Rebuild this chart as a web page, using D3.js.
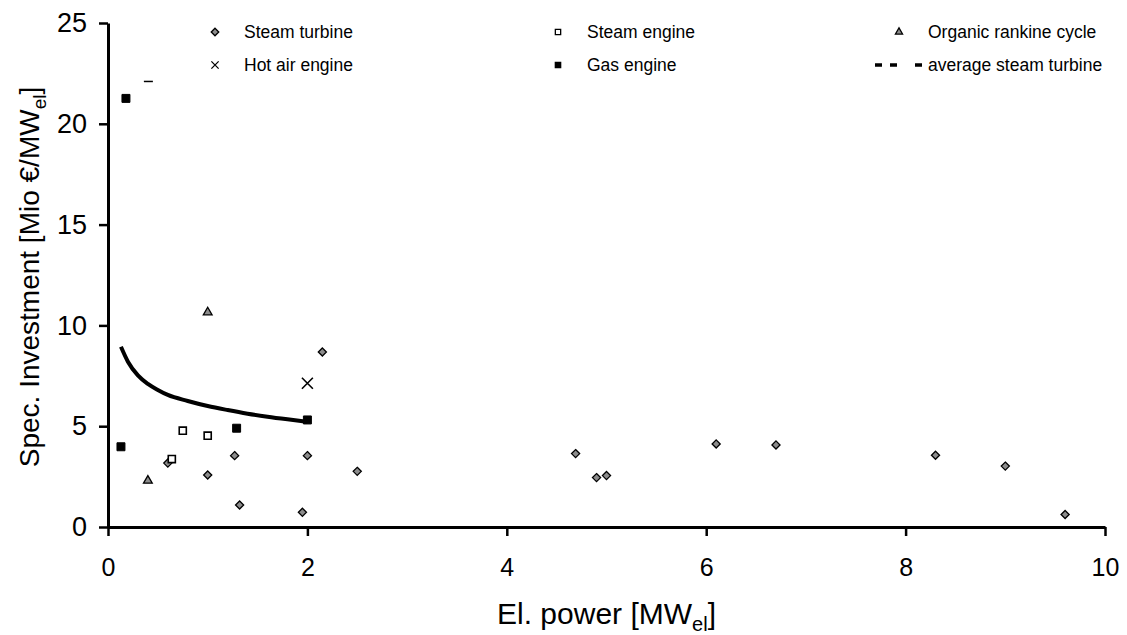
<!DOCTYPE html>
<html>
<head>
<meta charset="utf-8">
<script src="https://cdn.jsdelivr.net/npm/d3@7"></script>
<style>
  body { margin: 0; background: #fff; }
  svg { font-family: Arial, "Liberation Sans", sans-serif; }
</style>
</head>
<body>
<div id="chart"></div>
<script>
// values: [el. power MW, spec. investment Mio €/MW]
const steamTurbine = [
  [0.60, 3.17], [1.00, 2.58], [1.27, 3.54], [1.32, 1.09], [1.95, 0.73],
  [2.00, 3.54], [2.15, 8.68], [2.50, 2.76], [4.69, 3.64], [4.90, 2.45],
  [5.00, 2.55], [6.10, 4.12], [6.70, 4.07], [8.30, 3.56], [9.00, 3.02],
  [9.60, 0.62]
];
const steamEngine = [[0.64, 3.37], [0.75, 4.78], [1.00, 4.53]];
const orc = [[0.40, 2.30], [1.00, 10.65]];
const hotAir = [[2.00, 7.13]];
const gasEngine = [[0.13, 3.98], [0.18, 21.26], [1.29, 4.90], [2.00, 5.31]];
// average steam turbine curve
const avgTurbine = [
  [0.13, 8.94], [0.2, 8.2], [0.3, 7.52], [0.4, 7.1], [0.5, 6.8], [0.6, 6.55],
  [0.8, 6.25], [1.0, 6.0], [1.2, 5.8], [1.4, 5.62], [1.6, 5.47], [1.8, 5.34], [2.0, 5.22]
];
const strayDash = [[0.40, 22.1]]; // small dash mark near the top
const xTicks = [0, 2, 4, 6, 8, 10];
const yTicks = [0, 5, 10, 15, 20, 25];

const W = 1127, H = 635;
const margin = { top: 23, right: 22, bottom: 108, left: 108 };
const width = W - margin.left - margin.right;
const height = H - margin.top - margin.bottom;

const svg = d3.select('#chart').append('svg')
  .attr('width', W).attr('height', H);
const g = svg.append('g')
  .attr('transform', 'translate(' + margin.left + ',' + margin.top + ')');

const x = d3.scaleLinear().domain([0, 10]).range([0, width]);
const y = d3.scaleLinear().domain([0, 25]).range([height, 0]);

// axes
const xAxis = d3.axisBottom(x).tickValues(xTicks).tickSize(9).tickPadding(22).tickSizeOuter(0);
const yAxis = d3.axisLeft(y).tickValues(yTicks).tickSize(9).tickPadding(12).tickSizeOuter(0);

const gx = g.append('g').attr('transform', 'translate(0,' + height + ')').call(xAxis);
const gy = g.append('g').call(yAxis);
[gx, gy].forEach(a => {
  a.select('.domain').attr('stroke', '#000').attr('stroke-width', 3);
  a.selectAll('.tick line').attr('stroke', '#000').attr('stroke-width', 2.5);
  a.selectAll('.tick text').attr('fill', '#000')
    .style('font-family', 'Arial, "Liberation Sans", sans-serif');
});
gx.selectAll('.tick text').style('font-size', '25px');
gy.selectAll('.tick text').style('font-size', '27px');

// axis titles
const xt = svg.append('text')
  .attr('x', margin.left + x(5)).attr('y', 624)
  .attr('text-anchor', 'middle').style('font-size', '30px');
xt.append('tspan').text('El. power [MW');
xt.append('tspan').attr('dy', 7).style('font-size', '20px').text('el');
xt.append('tspan').attr('dy', -7).text(']');

const yt = svg.append('text')
  .attr('transform', 'translate(39,' + (margin.top + y(12.5) + 2) + ') rotate(-90)')
  .attr('text-anchor', 'middle').style('font-size', '28px');
yt.append('tspan').text('Spec. Investment [Mio €/MW');
yt.append('tspan').attr('dy', 7).style('font-size', '19px').text('el');
yt.append('tspan').attr('dy', -7).text(']');

// marker drawing helpers
const sym = (type, size) => d3.symbol().type(type).size(size)();
function drawPoints(data, type, size, fill, stroke, sw) {
  g.append('g').selectAll('path').data(data).join('path')
    .attr('transform', d => 'translate(' + x(d[0]) + ',' + y(d[1]) + ')')
    .attr('d', sym(type, size))
    .attr('fill', fill).attr('stroke', stroke).attr('stroke-width', sw);
}

// average curve
g.append('path').datum(avgTurbine)
  .attr('fill', 'none').attr('stroke', '#000').attr('stroke-width', 4)
  .attr('d', d3.line().x(d => x(d[0])).y(d => y(d[1])).curve(d3.curveMonotoneX));

g.append('g').selectAll('line').data(strayDash).join('line')
  .attr('x1', d => x(d[0]) - 4).attr('x2', d => x(d[0]) + 5)
  .attr('y1', d => y(d[1])).attr('y2', d => y(d[1]))
  .attr('stroke', '#000').attr('stroke-width', 1.5);

drawPoints(steamTurbine, d3.symbolDiamond2, 42, '#8c8c8c', '#000', 1.3);
drawPoints(orc, d3.symbolTriangle2, 55, '#8c8c8c', '#000', 1.3);
drawPoints(steamEngine, d3.symbolSquare2, 64, '#fff', '#000', 1.6);
drawPoints(gasEngine, d3.symbolSquare2, 81, '#000', '#000', 1);
drawPoints(hotAir, d3.symbolTimes, 80, 'none', '#000', 1.6);

// legend
const legendItems = [
  { label: 'Steam turbine', type: d3.symbolDiamond2, fill: '#8c8c8c', stroke: '#000', x: 215, y: 32 },
  { label: 'Steam engine', type: d3.symbolSquare2, fill: '#fff', stroke: '#000', x: 558, y: 32 },
  { label: 'Organic rankine cycle', type: d3.symbolTriangle2, fill: '#8c8c8c', stroke: '#000', x: 899, y: 32 },
  { label: 'Hot air engine', type: d3.symbolTimes, fill: 'none', stroke: '#000', x: 215, y: 65 },
  { label: 'Gas engine', type: d3.symbolSquare2, fill: '#000', stroke: '#000', x: 558, y: 65 },
  { label: 'average steam turbine', type: null, x: 899, y: 65 }
];
const leg = svg.append('g').selectAll('g').data(legendItems).join('g')
  .attr('transform', d => 'translate(' + d.x + ',' + d.y + ')');
leg.filter(d => d.type).append('path')
  .attr('d', d => sym(d.type, 36))
  .attr('fill', d => d.fill).attr('stroke', d => d.stroke).attr('stroke-width', 1.3);
leg.filter(d => !d.type).append('line')
  .attr('x1', -24).attr('x2', 23).attr('y1', 0).attr('y2', 0)
  .attr('stroke', '#000').attr('stroke-width', 3.5).attr('stroke-dasharray', '7,8,7,18');
leg.append('text').attr('x', 29).attr('y', 6)
  .style('font-size', '17.5px').text(d => d.label);
</script>
</body>
</html>
